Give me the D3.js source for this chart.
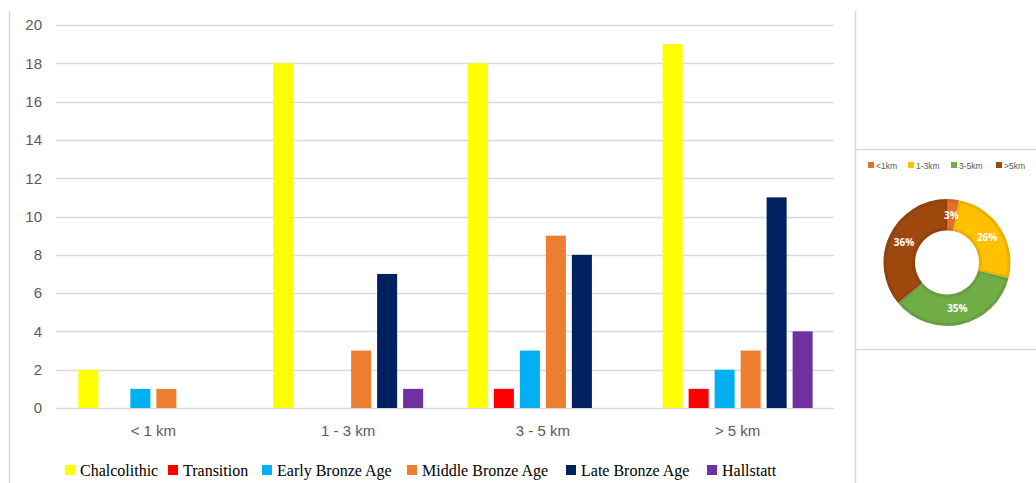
<!DOCTYPE html>
<html>
<head>
<meta charset="utf-8">
<script src="https://cdn.jsdelivr.net/npm/d3@7"></script>
<style>
  html, body { margin: 0; padding: 0; background: #fff; }
  svg { display: block; }
</style>
</head>
<body>
<svg id="chart" width="1036" height="483"></svg>
<script>
// Distance bands and period series (counts of sites)
const categories = ["< 1 km", "1 - 3 km", "3 - 5 km", "> 5 km"];
const seriesNames = ["Chalcolithic", "Transition", "Early Bronze Age", "Middle Bronze Age", "Late Bronze Age", "Hallstatt"];
const chalcolithic = [2, 18, 18, 19];
const transition = [0, 0, 1, 1];
const earlyBronze = [1, 0, 3, 2];
const middleBronze = [1, 3, 9, 3];
const lateBronze = [0, 7, 8, 11];
const hallstatt = [0, 1, 0, 4];
const yTicks = [0, 2, 4, 6, 8, 10, 12, 14, 16, 18, 20];

// Share of sites per distance band (doughnut)
const ringLabels = ["<1km", "1-3km", "3-5km", ">5km"];
const ringShares = [3, 26, 35, 36];

const seriesValues = [chalcolithic, transition, earlyBronze, middleBronze, lateBronze, hallstatt];
const seriesColors = ["#FFFF00", "#FF0000", "#00B0F0", "#ED7D31", "#002060", "#7030A0"];
const ringColors = ["#E36F2C", "#FFC000", "#70AD47", "#9E480E"];

const svg = d3.select("#chart");
const gridColor = "#d9d9d9";
const axisText = "#595959";

// Panel frame lines
svg.append("line").attr("x1", 9.5).attr("x2", 9.5).attr("y1", 11).attr("y2", 483)
  .attr("stroke", gridColor).attr("stroke-width", 1.5);
svg.append("line").attr("x1", 855.5).attr("x2", 855.5).attr("y1", 11).attr("y2", 483)
  .attr("stroke", gridColor).attr("stroke-width", 1.5);
svg.append("line").attr("x1", 855).attr("x2", 1036).attr("y1", 149.5).attr("y2", 149.5)
  .attr("stroke", gridColor).attr("stroke-width", 1.5);
svg.append("line").attr("x1", 855).attr("x2", 1036).attr("y1", 349.5).attr("y2", 349.5)
  .attr("stroke", gridColor).attr("stroke-width", 1.5);

// ---- Column chart ----
const plot = { left: 56, right: 835, top: 25, bottom: 408 };
const y = d3.scaleLinear().domain([0, 20]).range([plot.bottom, plot.top]);
const x0 = d3.scaleBand().domain(categories).range([plot.left, plot.right]);
const x1 = d3.scaleBand().domain(seriesNames)
  .range([0, x0.bandwidth()]).paddingInner(0.23).paddingOuter(0.86);

// Gridlines
svg.append("g").selectAll("line").data(yTicks).join("line")
  .attr("x1", plot.left).attr("x2", plot.right - 1)
  .attr("y1", d => Math.round(y(d)) + 0.5).attr("y2", d => Math.round(y(d)) + 0.5)
  .attr("stroke", gridColor).attr("stroke-width", 1.5);

// Y axis labels
const yAxis = d3.axisLeft(y).tickValues(yTicks).tickSize(0).tickPadding(0);
svg.append("g").attr("transform", "translate(42,0)").call(yAxis)
  .call(g => g.select(".domain").remove())
  .call(g => g.selectAll("text")
    .attr("font-family", "'Liberation Sans', Arial, sans-serif")
    .attr("font-size", 15).attr("fill", axisText));

// X axis labels
const xAxis = d3.axisBottom(x0).tickSize(0).tickPadding(0);
svg.append("g").attr("transform", `translate(0,${plot.bottom + 17})`).call(xAxis)
  .call(g => g.select(".domain").remove())
  .call(g => g.selectAll("text")
    .attr("font-family", "'Liberation Sans', Arial, sans-serif")
    .attr("font-size", 15).attr("fill", axisText));

// Bars
const groups = svg.append("g").selectAll("g").data(categories).join("g")
  .attr("transform", d => `translate(${x0(d)},0)`);
groups.selectAll("rect")
  .data((c, ci) => seriesNames.map((s, si) => ({ s, si, v: seriesValues[si][ci] })))
  .join("rect")
  .attr("x", d => x1(d.s))
  .attr("width", x1.bandwidth())
  .attr("y", d => y(d.v))
  .attr("height", d => y(0) - y(d.v))
  .attr("fill", d => seriesColors[d.si]);

// Bottom legend
const legendX = [65, 168, 262, 407, 566, 707];
const legend = svg.append("g").attr("font-family", "'Liberation Serif', 'Times New Roman', serif")
  .attr("font-size", 16).attr("fill", "#000");
seriesNames.forEach((name, i) => {
  legend.append("rect").attr("x", legendX[i]).attr("y", 465).attr("width", 10).attr("height", 10)
    .attr("fill", seriesColors[i]);
  legend.append("text").attr("x", legendX[i] + 15).attr("y", 476).text(name);
});

// ---- Doughnut ----
const cx = 947, cy = 262.5, rOuter = 63.5, rInner = 32;
const pie = d3.pie().sort(null).value(d => d)(ringShares);
const arc = d3.arc().innerRadius(rInner).outerRadius(rOuter);
const innerArc = d3.arc().innerRadius(rInner + 3).outerRadius(rOuter - 3);
const ring = svg.append("g").attr("transform", `translate(${cx},${cy})`);
ring.selectAll("path.outer").data(pie).join("path").attr("class", "outer")
  .attr("d", arc)
  .attr("fill", (d, i) => d3.color(ringColors[i]).darker(0.25));
ring.selectAll("path.inner").data(pie).join("path").attr("class", "inner")
  .attr("d", d => {
    const trim = d.endAngle - d.startAngle > 0.2 ? 0.04 : 0.012;
    return innerArc({ ...d, padAngle: 0, startAngle: d.startAngle + trim, endAngle: d.endAngle - trim });
  })
  .attr("fill", (d, i) => ringColors[i]);

// Percentage labels
const labelArc = d3.arc().innerRadius(rOuter - 16).outerRadius(rOuter - 16);
ring.selectAll("text").data(pie).join("text")
  .attr("transform", d => `translate(${labelArc.centroid(d)})`)
  .attr("text-anchor", "middle").attr("dy", "0.35em")
  .attr("font-family", "'Open Sans', 'Liberation Sans', sans-serif")
  .attr("font-size", 10).attr("font-weight", "bold").attr("fill", "#fff")
  .text(d => d.data + "%");

// Doughnut legend
const ringLegendX = [868, 908, 951, 996];
const rl = svg.append("g").attr("font-family", "'Liberation Sans', Arial, sans-serif")
  .attr("font-size", 8.5).attr("fill", axisText);
ringLabels.forEach((name, i) => {
  rl.append("rect").attr("x", ringLegendX[i]).attr("y", 162).attr("width", 6).attr("height", 6)
    .attr("fill", ringColors[i]);
  rl.append("text").attr("x", ringLegendX[i] + 8).attr("y", 168.5).text(name);
});
</script>
</body>
</html>
